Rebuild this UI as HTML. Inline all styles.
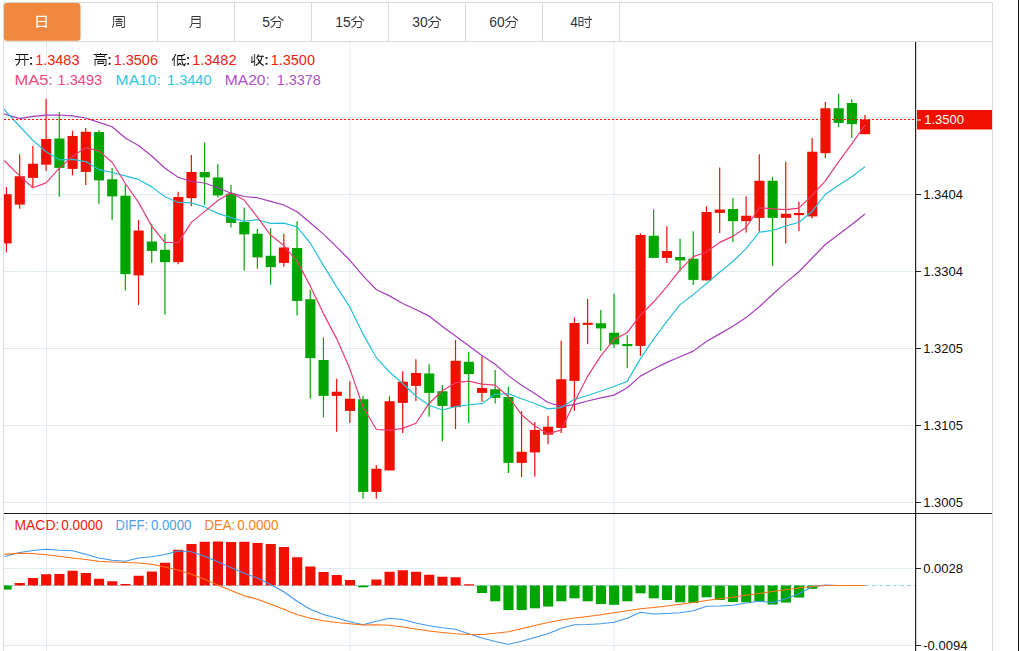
<!DOCTYPE html>
<html><head><meta charset="utf-8"><title>chart</title><style>html,body{margin:0;padding:0;background:#fff;overflow:hidden}body{width:1019px;height:651px;position:relative}</style></head><body>
<svg width="1019" height="651" viewBox="0 0 1019 651" style="position:absolute;left:0;top:0;font-family:'Liberation Sans',sans-serif">
<defs><clipPath id="cp"><rect x="4" y="42" width="912" height="609"/></clipPath></defs>
<rect width="1019" height="651" fill="#fff"/>
<line x1="4" x2="916" y1="117.5" y2="117.5" stroke="#e0ebf2" stroke-width="1"/>
<line x1="4" x2="916" y1="194.5" y2="194.5" stroke="#e0ebf2" stroke-width="1"/>
<line x1="4" x2="916" y1="271.5" y2="271.5" stroke="#e0ebf2" stroke-width="1"/>
<line x1="4" x2="916" y1="348.5" y2="348.5" stroke="#e0ebf2" stroke-width="1"/>
<line x1="4" x2="916" y1="425.5" y2="425.5" stroke="#e0ebf2" stroke-width="1"/>
<line x1="4" x2="916" y1="502.5" y2="502.5" stroke="#e0ebf2" stroke-width="1"/>
<line x1="4" x2="916" y1="568.5" y2="568.5" stroke="#e0ebf2" stroke-width="1"/>
<line x1="4" x2="916" y1="645.5" y2="645.5" stroke="#e0ebf2" stroke-width="1"/>
<line x1="46.5" x2="46.5" y1="42" y2="651" stroke="#e0ebf2" stroke-width="1"/>
<line x1="350.0" x2="350.0" y1="42" y2="651" stroke="#e0ebf2" stroke-width="1"/>
<line x1="614.0" x2="614.0" y1="42" y2="651" stroke="#e0ebf2" stroke-width="1"/>
<path d="M3.5 651V2.5H992.5V651" fill="none" stroke="#d9d9d9" stroke-width="1"/>
<line x1="4" x2="992" y1="41.5" y2="41.5" stroke="#d9d9d9"/>
<line x1="157.5" x2="157.5" y1="3" y2="41" stroke="#d9d9d9"/>
<line x1="234.5" x2="234.5" y1="3" y2="41" stroke="#d9d9d9"/>
<line x1="311.5" x2="311.5" y1="3" y2="41" stroke="#d9d9d9"/>
<line x1="388.5" x2="388.5" y1="3" y2="41" stroke="#d9d9d9"/>
<line x1="465.5" x2="465.5" y1="3" y2="41" stroke="#d9d9d9"/>
<line x1="542.5" x2="542.5" y1="3" y2="41" stroke="#d9d9d9"/>
<line x1="619.5" x2="619.5" y1="3" y2="41" stroke="#d9d9d9"/>
<rect x="4" y="3" width="76.5" height="37.7" rx="3" fill="#f0883e"/>
<rect x="1018" y="0" width="1" height="651" fill="#111"/>
<line x1="4" x2="916" y1="585.5" y2="585.5" stroke="#8fd3f2" stroke-width="1" stroke-dasharray="4,3"/>
<g clip-path="url(#cp)">
<line x1="6.45" x2="6.45" y1="187" y2="252.4" stroke="#f01000" stroke-width="1.2"/>
<rect x="1.50" y="194.25" width="10.15" height="49.15" fill="#f01000"/>
<line x1="19.66" x2="19.66" y1="154.25" y2="208.65" stroke="#f01000" stroke-width="1.2"/>
<rect x="14.71" y="176.25" width="10.15" height="28.40" fill="#f01000"/>
<line x1="32.87" x2="32.87" y1="145.75" y2="187.4" stroke="#f01000" stroke-width="1.2"/>
<rect x="27.92" y="163.75" width="10.15" height="14.15" fill="#f01000"/>
<line x1="46.07" x2="46.07" y1="98.75" y2="170.9" stroke="#f01000" stroke-width="1.2"/>
<rect x="41.12" y="139" width="10.15" height="25.65" fill="#f01000"/>
<line x1="59.28" x2="59.28" y1="112" y2="196.65" stroke="#00a500" stroke-width="1.2"/>
<rect x="54.33" y="138.5" width="10.15" height="29.40" fill="#00a500"/>
<line x1="72.49" x2="72.49" y1="130.75" y2="175.4" stroke="#f01000" stroke-width="1.2"/>
<rect x="67.54" y="136" width="10.15" height="32.90" fill="#f01000"/>
<line x1="85.70" x2="85.70" y1="128" y2="184.9" stroke="#f01000" stroke-width="1.2"/>
<rect x="80.75" y="131.75" width="10.15" height="40.15" fill="#f01000"/>
<line x1="98.91" x2="98.91" y1="130" y2="203.65" stroke="#00a500" stroke-width="1.2"/>
<rect x="93.96" y="132" width="10.15" height="48.40" fill="#00a500"/>
<line x1="112.11" x2="112.11" y1="168" y2="219.9" stroke="#00a500" stroke-width="1.2"/>
<rect x="107.16" y="179.25" width="10.15" height="17.15" fill="#00a500"/>
<line x1="125.32" x2="125.32" y1="184.5" y2="290.4" stroke="#00a500" stroke-width="1.2"/>
<rect x="120.37" y="195.75" width="10.15" height="78.40" fill="#00a500"/>
<line x1="138.53" x2="138.53" y1="220" y2="304.9" stroke="#f01000" stroke-width="1.2"/>
<rect x="133.58" y="230.5" width="10.15" height="44.90" fill="#f01000"/>
<line x1="151.74" x2="151.74" y1="223.75" y2="262.9" stroke="#00a500" stroke-width="1.2"/>
<rect x="146.79" y="241.5" width="10.15" height="9.40" fill="#00a500"/>
<line x1="164.95" x2="164.95" y1="234" y2="314.65" stroke="#00a500" stroke-width="1.2"/>
<rect x="160.00" y="249.75" width="10.15" height="12.40" fill="#00a500"/>
<line x1="178.15" x2="178.15" y1="191.75" y2="264.15" stroke="#f01000" stroke-width="1.2"/>
<rect x="173.20" y="197" width="10.15" height="65.15" fill="#f01000"/>
<line x1="191.36" x2="191.36" y1="155" y2="205.9" stroke="#f01000" stroke-width="1.2"/>
<rect x="186.41" y="172" width="10.15" height="26.15" fill="#f01000"/>
<line x1="204.57" x2="204.57" y1="142.5" y2="204.65" stroke="#00a500" stroke-width="1.2"/>
<rect x="199.62" y="172" width="10.15" height="5.40" fill="#00a500"/>
<line x1="217.78" x2="217.78" y1="164" y2="197.4" stroke="#00a500" stroke-width="1.2"/>
<rect x="212.83" y="177.5" width="10.15" height="17.90" fill="#00a500"/>
<line x1="230.99" x2="230.99" y1="185" y2="227.4" stroke="#00a500" stroke-width="1.2"/>
<rect x="226.04" y="193.75" width="10.15" height="29.15" fill="#00a500"/>
<line x1="244.19" x2="244.19" y1="207.5" y2="270.4" stroke="#00a500" stroke-width="1.2"/>
<rect x="239.24" y="222" width="10.15" height="12.40" fill="#00a500"/>
<line x1="257.40" x2="257.40" y1="228.75" y2="268.65" stroke="#00a500" stroke-width="1.2"/>
<rect x="252.45" y="233.75" width="10.15" height="23.65" fill="#00a500"/>
<line x1="270.61" x2="270.61" y1="228.25" y2="284.65" stroke="#00a500" stroke-width="1.2"/>
<rect x="265.66" y="255.75" width="10.15" height="11.40" fill="#00a500"/>
<line x1="283.82" x2="283.82" y1="233.75" y2="266.4" stroke="#f01000" stroke-width="1.2"/>
<rect x="278.87" y="247.5" width="10.15" height="15.40" fill="#f01000"/>
<line x1="297.03" x2="297.03" y1="221.25" y2="315.4" stroke="#00a500" stroke-width="1.2"/>
<rect x="292.08" y="248" width="10.15" height="52.90" fill="#00a500"/>
<line x1="310.23" x2="310.23" y1="290" y2="398.4" stroke="#00a500" stroke-width="1.2"/>
<rect x="305.28" y="299.25" width="10.15" height="58.90" fill="#00a500"/>
<line x1="323.44" x2="323.44" y1="337.5" y2="417.15" stroke="#00a500" stroke-width="1.2"/>
<rect x="318.49" y="360" width="10.15" height="35.90" fill="#00a500"/>
<line x1="336.65" x2="336.65" y1="378.75" y2="431.65" stroke="#f01000" stroke-width="1.2"/>
<rect x="331.70" y="391.75" width="10.15" height="4.15" fill="#f01000"/>
<line x1="349.86" x2="349.86" y1="381.25" y2="422.9" stroke="#f01000" stroke-width="1.2"/>
<rect x="344.91" y="398.75" width="10.15" height="12.15" fill="#f01000"/>
<line x1="363.07" x2="363.07" y1="395.75" y2="498.65" stroke="#00a500" stroke-width="1.2"/>
<rect x="358.12" y="399.25" width="10.15" height="92.65" fill="#00a500"/>
<line x1="376.27" x2="376.27" y1="465" y2="498.65" stroke="#f01000" stroke-width="1.2"/>
<rect x="371.32" y="468.75" width="10.15" height="23.15" fill="#f01000"/>
<line x1="389.48" x2="389.48" y1="396.25" y2="470.4" stroke="#f01000" stroke-width="1.2"/>
<rect x="384.53" y="401.25" width="10.15" height="69.15" fill="#f01000"/>
<line x1="402.69" x2="402.69" y1="371.25" y2="432.9" stroke="#f01000" stroke-width="1.2"/>
<rect x="397.74" y="381.75" width="10.15" height="21.15" fill="#f01000"/>
<line x1="415.90" x2="415.90" y1="359.25" y2="400.9" stroke="#f01000" stroke-width="1.2"/>
<rect x="410.95" y="373" width="10.15" height="12.90" fill="#f01000"/>
<line x1="429.11" x2="429.11" y1="364.25" y2="416.65" stroke="#00a500" stroke-width="1.2"/>
<rect x="424.16" y="373.5" width="10.15" height="19.40" fill="#00a500"/>
<line x1="442.31" x2="442.31" y1="385" y2="441.15" stroke="#00a500" stroke-width="1.2"/>
<rect x="437.36" y="391.25" width="10.15" height="14.65" fill="#00a500"/>
<line x1="455.52" x2="455.52" y1="340" y2="429.15" stroke="#f01000" stroke-width="1.2"/>
<rect x="450.57" y="360.75" width="10.15" height="46.40" fill="#f01000"/>
<line x1="468.73" x2="468.73" y1="352" y2="422.9" stroke="#00a500" stroke-width="1.2"/>
<rect x="463.78" y="361.75" width="10.15" height="12.40" fill="#00a500"/>
<line x1="481.94" x2="481.94" y1="356.25" y2="401.65" stroke="#f01000" stroke-width="1.2"/>
<rect x="476.99" y="388" width="10.15" height="4.90" fill="#f01000"/>
<line x1="495.15" x2="495.15" y1="370" y2="403.4" stroke="#00a500" stroke-width="1.2"/>
<rect x="490.20" y="389.25" width="10.15" height="8.65" fill="#00a500"/>
<line x1="508.35" x2="508.35" y1="386.75" y2="472.9" stroke="#00a500" stroke-width="1.2"/>
<rect x="503.40" y="397" width="10.15" height="65.90" fill="#00a500"/>
<line x1="521.56" x2="521.56" y1="411.25" y2="477.15" stroke="#f01000" stroke-width="1.2"/>
<rect x="516.61" y="451.75" width="10.15" height="11.15" fill="#f01000"/>
<line x1="534.77" x2="534.77" y1="422" y2="476.65" stroke="#f01000" stroke-width="1.2"/>
<rect x="529.82" y="430" width="10.15" height="22.40" fill="#f01000"/>
<line x1="547.98" x2="547.98" y1="415.75" y2="444.15" stroke="#f01000" stroke-width="1.2"/>
<rect x="543.03" y="426.75" width="10.15" height="7.90" fill="#f01000"/>
<line x1="561.19" x2="561.19" y1="340.75" y2="432.9" stroke="#f01000" stroke-width="1.2"/>
<rect x="556.24" y="379.25" width="10.15" height="48.65" fill="#f01000"/>
<line x1="574.39" x2="574.39" y1="317.5" y2="410.9" stroke="#f01000" stroke-width="1.2"/>
<rect x="569.44" y="323" width="10.15" height="57.90" fill="#f01000"/>
<line x1="587.60" x2="587.60" y1="298.75" y2="344.15" stroke="#f01000" stroke-width="1.2"/>
<rect x="582.65" y="322.75" width="10.15" height="2.15" fill="#f01000"/>
<line x1="600.81" x2="600.81" y1="310" y2="350.9" stroke="#00a500" stroke-width="1.2"/>
<rect x="595.86" y="323.25" width="10.15" height="5.15" fill="#00a500"/>
<line x1="614.02" x2="614.02" y1="293.75" y2="347.9" stroke="#00a500" stroke-width="1.2"/>
<rect x="609.07" y="332.75" width="10.15" height="11.65" fill="#00a500"/>
<line x1="627.23" x2="627.23" y1="335" y2="367.9" stroke="#00a500" stroke-width="1.2"/>
<rect x="622.28" y="344" width="10.15" height="2.15" fill="#00a500"/>
<line x1="640.43" x2="640.43" y1="233.25" y2="355.9" stroke="#f01000" stroke-width="1.2"/>
<rect x="635.48" y="235" width="10.15" height="110.90" fill="#f01000"/>
<line x1="653.64" x2="653.64" y1="209.25" y2="257.9" stroke="#00a500" stroke-width="1.2"/>
<rect x="648.69" y="235.75" width="10.15" height="22.15" fill="#00a500"/>
<line x1="666.85" x2="666.85" y1="226.25" y2="262.9" stroke="#f01000" stroke-width="1.2"/>
<rect x="661.90" y="251" width="10.15" height="6.90" fill="#f01000"/>
<line x1="680.06" x2="680.06" y1="238.75" y2="271.2" stroke="#00a500" stroke-width="1.2"/>
<rect x="675.11" y="257" width="10.15" height="3.40" fill="#00a500"/>
<line x1="693.27" x2="693.27" y1="231.25" y2="284.9" stroke="#00a500" stroke-width="1.2"/>
<rect x="688.32" y="258.75" width="10.15" height="21.15" fill="#00a500"/>
<line x1="706.47" x2="706.47" y1="206.25" y2="280.4" stroke="#f01000" stroke-width="1.2"/>
<rect x="701.52" y="212" width="10.15" height="68.40" fill="#f01000"/>
<line x1="719.68" x2="719.68" y1="167.5" y2="232.9" stroke="#f01000" stroke-width="1.2"/>
<rect x="714.73" y="209.5" width="10.15" height="3.40" fill="#f01000"/>
<line x1="732.89" x2="732.89" y1="198" y2="242.15" stroke="#00a500" stroke-width="1.2"/>
<rect x="727.94" y="209" width="10.15" height="12.15" fill="#00a500"/>
<line x1="746.10" x2="746.10" y1="196.25" y2="232.4" stroke="#f01000" stroke-width="1.2"/>
<rect x="741.15" y="215.75" width="10.15" height="5.40" fill="#f01000"/>
<line x1="759.31" x2="759.31" y1="154.25" y2="231.65" stroke="#f01000" stroke-width="1.2"/>
<rect x="754.36" y="180.75" width="10.15" height="37.15" fill="#f01000"/>
<line x1="772.51" x2="772.51" y1="176.75" y2="265.9" stroke="#00a500" stroke-width="1.2"/>
<rect x="767.56" y="180.75" width="10.15" height="37.15" fill="#00a500"/>
<line x1="785.72" x2="785.72" y1="161.75" y2="243.4" stroke="#f01000" stroke-width="1.2"/>
<rect x="780.77" y="213.75" width="10.15" height="4.15" fill="#f01000"/>
<line x1="798.93" x2="798.93" y1="201.75" y2="230.9" stroke="#f01000" stroke-width="1.2"/>
<rect x="793.98" y="213" width="10.15" height="2.15" fill="#f01000"/>
<line x1="812.14" x2="812.14" y1="138" y2="218.4" stroke="#f01000" stroke-width="1.2"/>
<rect x="807.19" y="151.75" width="10.15" height="64.65" fill="#f01000"/>
<line x1="825.35" x2="825.35" y1="102" y2="157.9" stroke="#f01000" stroke-width="1.2"/>
<rect x="820.40" y="108.25" width="10.15" height="44.90" fill="#f01000"/>
<line x1="838.55" x2="838.55" y1="93.75" y2="127.15" stroke="#00a500" stroke-width="1.2"/>
<rect x="833.60" y="108.25" width="10.15" height="14.65" fill="#00a500"/>
<line x1="851.76" x2="851.76" y1="99.25" y2="137.9" stroke="#00a500" stroke-width="1.2"/>
<rect x="846.81" y="103" width="10.15" height="21.15" fill="#00a500"/>
<line x1="864.97" x2="864.97" y1="115" y2="134.15" stroke="#f01000" stroke-width="1.2"/>
<rect x="860.02" y="119.5" width="10.15" height="14.65" fill="#f01000"/>
<rect x="1.50" y="585.5" width="10.15" height="4.05" fill="#00a500"/>
<rect x="14.71" y="583" width="10.15" height="2.50" fill="#f01000"/>
<rect x="27.92" y="578" width="10.15" height="7.50" fill="#f01000"/>
<rect x="41.12" y="574.25" width="10.15" height="11.25" fill="#f01000"/>
<rect x="54.33" y="574" width="10.15" height="11.50" fill="#f01000"/>
<rect x="67.54" y="570.75" width="10.15" height="14.75" fill="#f01000"/>
<rect x="80.75" y="573" width="10.15" height="12.50" fill="#f01000"/>
<rect x="93.96" y="578.75" width="10.15" height="6.75" fill="#f01000"/>
<rect x="107.16" y="581.25" width="10.15" height="4.25" fill="#f01000"/>
<rect x="120.37" y="584" width="10.15" height="1.50" fill="#f01000"/>
<rect x="133.58" y="575.75" width="10.15" height="9.75" fill="#f01000"/>
<rect x="146.79" y="571.5" width="10.15" height="14.00" fill="#f01000"/>
<rect x="160.00" y="562.75" width="10.15" height="22.75" fill="#f01000"/>
<rect x="173.20" y="549.75" width="10.15" height="35.75" fill="#f01000"/>
<rect x="186.41" y="544" width="10.15" height="41.50" fill="#f01000"/>
<rect x="199.62" y="541.75" width="10.15" height="43.75" fill="#f01000"/>
<rect x="212.83" y="541.5" width="10.15" height="44.00" fill="#f01000"/>
<rect x="226.04" y="542" width="10.15" height="43.50" fill="#f01000"/>
<rect x="239.24" y="541.75" width="10.15" height="43.75" fill="#f01000"/>
<rect x="252.45" y="543" width="10.15" height="42.50" fill="#f01000"/>
<rect x="265.66" y="544" width="10.15" height="41.50" fill="#f01000"/>
<rect x="278.87" y="547" width="10.15" height="38.50" fill="#f01000"/>
<rect x="292.08" y="557.25" width="10.15" height="28.25" fill="#f01000"/>
<rect x="305.28" y="566.5" width="10.15" height="19.00" fill="#f01000"/>
<rect x="318.49" y="572" width="10.15" height="13.50" fill="#f01000"/>
<rect x="331.70" y="575" width="10.15" height="10.50" fill="#f01000"/>
<rect x="344.91" y="580" width="10.15" height="5.50" fill="#f01000"/>
<rect x="358.12" y="585.5" width="10.15" height="1.80" fill="#00a500"/>
<rect x="371.32" y="579.5" width="10.15" height="6.00" fill="#f01000"/>
<rect x="384.53" y="571.75" width="10.15" height="13.75" fill="#f01000"/>
<rect x="397.74" y="570.25" width="10.15" height="15.25" fill="#f01000"/>
<rect x="410.95" y="571.75" width="10.15" height="13.75" fill="#f01000"/>
<rect x="424.16" y="574.75" width="10.15" height="10.75" fill="#f01000"/>
<rect x="437.36" y="576.75" width="10.15" height="8.75" fill="#f01000"/>
<rect x="450.57" y="577.25" width="10.15" height="8.25" fill="#f01000"/>
<rect x="463.78" y="584.25" width="10.15" height="1.25" fill="#f01000"/>
<rect x="476.99" y="585.5" width="10.15" height="7.55" fill="#00a500"/>
<rect x="490.20" y="585.5" width="10.15" height="15.80" fill="#00a500"/>
<rect x="503.40" y="585.5" width="10.15" height="24.55" fill="#00a500"/>
<rect x="516.61" y="585.5" width="10.15" height="24.55" fill="#00a500"/>
<rect x="529.82" y="585.5" width="10.15" height="22.80" fill="#00a500"/>
<rect x="543.03" y="585.5" width="10.15" height="21.05" fill="#00a500"/>
<rect x="556.24" y="585.5" width="10.15" height="15.80" fill="#00a500"/>
<rect x="569.44" y="585.5" width="10.15" height="12.80" fill="#00a500"/>
<rect x="582.65" y="585.5" width="10.15" height="15.80" fill="#00a500"/>
<rect x="595.86" y="585.5" width="10.15" height="18.55" fill="#00a500"/>
<rect x="609.07" y="585.5" width="10.15" height="19.30" fill="#00a500"/>
<rect x="622.28" y="585.5" width="10.15" height="15.80" fill="#00a500"/>
<rect x="635.48" y="585.5" width="10.15" height="7.80" fill="#00a500"/>
<rect x="648.69" y="585.5" width="10.15" height="12.80" fill="#00a500"/>
<rect x="661.90" y="585.5" width="10.15" height="14.55" fill="#00a500"/>
<rect x="675.11" y="585.5" width="10.15" height="16.80" fill="#00a500"/>
<rect x="688.32" y="585.5" width="10.15" height="17.30" fill="#00a500"/>
<rect x="701.52" y="585.5" width="10.15" height="11.80" fill="#00a500"/>
<rect x="714.73" y="585.5" width="10.15" height="14.55" fill="#00a500"/>
<rect x="727.94" y="585.5" width="10.15" height="16.55" fill="#00a500"/>
<rect x="741.15" y="585.5" width="10.15" height="16.80" fill="#00a500"/>
<rect x="754.36" y="585.5" width="10.15" height="16.05" fill="#00a500"/>
<rect x="767.56" y="585.5" width="10.15" height="19.05" fill="#00a500"/>
<rect x="780.77" y="585.5" width="10.15" height="17.05" fill="#00a500"/>
<rect x="793.98" y="585.5" width="10.15" height="12.05" fill="#00a500"/>
<rect x="807.19" y="585.5" width="10.15" height="3.30" fill="#00a500"/>
<rect x="820.40" y="585" width="10.15" height="0.50" fill="#f01000"/>
<polyline points="4.00,113.90 6.45,114.70 19.66,118.60 32.87,116.40 46.07,115.15 59.28,115.00 72.49,115.80 85.70,118.00 98.91,122.40 112.11,126.80 125.32,138.00 138.53,145.50 151.74,156.00 164.95,168.30 178.15,177.20 191.36,181.50 204.57,183.00 217.78,187.70 230.99,193.20 244.19,196.50 257.40,197.78 270.61,201.40 283.82,204.96 297.03,211.80 310.23,222.74 323.44,234.14 336.65,246.93 349.86,260.27 363.07,275.85 376.27,289.49 389.48,295.86 402.69,303.43 415.90,309.55 429.11,316.09 442.31,326.51 455.52,335.95 468.73,345.79 481.94,355.44 495.15,364.19 508.35,375.61 521.56,385.35 534.77,393.51 547.98,402.48 561.19,406.41 574.39,404.68 587.60,401.04 600.81,397.85 614.02,395.11 627.23,387.82 640.43,376.14 653.64,368.95 666.85,362.41 680.06,356.76 693.27,351.11 706.47,341.44 719.68,333.88 732.89,326.23 746.10,317.61 759.31,306.77 772.51,294.52 785.72,282.62 798.93,271.77 812.14,258.02 825.35,244.47 838.55,234.45 851.76,224.50 864.97,214.07" fill="none" stroke="#a63cbc" stroke-width="1.2" stroke-linejoin="round"/>
<polyline points="4.00,109.00 6.45,112.00 19.66,126.25 32.87,140.30 46.07,151.75 59.28,159.80 72.49,159.40 85.70,161.60 98.91,169.60 112.11,172.50 125.32,175.82 138.53,179.45 151.74,186.88 164.95,196.68 178.15,202.47 191.36,202.93 204.57,207.03 217.78,213.35 230.99,217.60 244.19,221.40 257.40,219.72 270.61,223.35 283.82,223.05 297.03,226.93 310.23,243.00 323.44,265.35 336.65,286.82 349.86,307.20 363.07,334.10 376.27,357.57 389.48,372.00 402.69,383.50 415.90,396.05 429.11,405.25 442.31,410.02 455.52,406.55 468.73,404.75 481.94,403.68 495.15,394.27 508.35,393.65 521.56,398.70 534.77,403.52 547.98,408.90 561.19,407.57 574.39,399.32 587.60,395.52 600.81,390.95 614.02,386.55 627.23,381.38 640.43,358.62 653.64,339.20 666.85,321.30 680.06,304.62 693.27,294.65 706.47,283.55 719.68,272.23 732.89,261.50 746.10,248.68 759.31,232.18 772.51,230.43 785.72,226.05 798.93,222.25 812.14,211.43 825.35,194.30 838.55,185.35 851.76,176.78 864.97,166.65" fill="none" stroke="#28c0d8" stroke-width="1.2" stroke-linejoin="round"/>
<polyline points="4.00,160.40 6.45,162.80 19.66,175.90 32.87,187.80 46.07,182.90 59.28,168.15 72.49,156.50 85.70,147.60 98.91,150.85 112.11,162.25 125.32,183.50 138.53,202.40 151.74,226.15 164.95,242.50 178.15,242.70 191.36,222.35 204.57,211.65 217.78,200.55 230.99,192.70 244.19,200.10 257.40,217.10 270.61,235.05 283.82,245.55 297.03,261.15 310.23,285.90 323.44,313.60 336.65,338.60 349.86,368.85 363.07,407.05 376.27,429.25 389.48,430.40 402.69,428.40 415.90,423.25 429.11,403.45 442.31,390.80 455.52,382.70 468.73,381.10 481.94,384.10 495.15,385.10 508.35,396.50 521.56,414.70 534.77,425.95 547.98,433.70 561.19,430.05 574.39,402.15 587.60,376.35 600.81,355.95 614.02,339.40 627.23,332.70 640.43,315.10 653.64,302.05 666.85,286.65 680.06,269.85 693.27,256.60 706.47,252.00 719.68,242.40 732.89,236.35 746.10,227.50 759.31,207.75 772.51,208.85 785.72,209.70 798.93,208.15 812.14,195.35 825.35,180.85 838.55,161.85 851.76,143.85 864.97,125.15" fill="none" stroke="#e93c74" stroke-width="1.2" stroke-linejoin="round"/>
<polyline points="4.00,556.25 6.45,556.00 19.66,552.50 32.87,550.50 46.07,549.25 59.28,550.25 72.49,550.75 85.70,554.25 98.91,558.00 112.11,560.25 125.32,561.25 138.53,558.00 151.74,556.75 164.95,554.50 178.15,551.00 191.36,551.75 204.57,556.25 217.78,561.75 230.99,567.50 244.19,573.25 257.40,578.00 270.61,584.50 283.82,591.75 297.03,601.25 310.23,609.25 323.44,614.50 336.65,618.00 349.86,621.75 363.07,624.75 376.27,621.25 389.48,618.25 402.69,619.50 415.90,623.00 429.11,625.75 442.31,627.75 455.52,629.25 468.73,633.75 481.94,638.00 495.15,641.50 508.35,644.25 521.56,641.25 534.77,637.50 547.98,633.75 561.19,628.25 574.39,624.75 587.60,624.50 600.81,623.75 614.02,622.25 627.23,618.25 640.43,612.25 653.64,614.00 666.85,613.50 680.06,612.75 693.27,610.75 706.47,606.25 719.68,606.00 732.89,605.25 746.10,603.00 759.31,601.25 772.51,602.50 785.72,598.75 798.93,593.75 812.14,586.75 825.35,585.00 838.55,585.50 851.76,585.50 864.97,585.50" fill="none" stroke="#3d98f0" stroke-width="1.15" stroke-linejoin="round"/>
<polyline points="4.00,554.25 6.45,554.10 19.66,553.25 32.87,553.50 46.07,554.75 59.28,556.25 72.49,558.00 85.70,559.50 98.91,561.25 112.11,562.00 125.32,562.50 138.53,563.00 151.74,564.25 164.95,567.00 178.15,570.00 191.36,574.25 204.57,579.25 217.78,585.00 230.99,590.50 244.19,595.75 257.40,599.25 270.61,604.25 283.82,609.25 297.03,614.50 310.23,618.25 323.44,620.75 336.65,622.50 349.86,623.75 363.07,625.00 376.27,624.75 389.48,625.25 402.69,627.00 415.90,629.00 429.11,631.00 442.31,632.50 455.52,633.75 468.73,634.50 481.94,634.50 495.15,633.25 508.35,631.75 521.56,628.75 534.77,625.50 547.98,622.50 561.19,620.00 574.39,618.00 587.60,616.50 600.81,614.75 614.02,612.75 627.23,610.75 640.43,608.75 653.64,607.50 666.85,606.00 680.06,604.25 693.27,602.50 706.47,600.50 719.68,598.75 732.89,597.25 746.10,595.25 759.31,593.50 772.51,591.50 785.72,589.75 798.93,588.00 812.14,586.50 825.35,585.50 838.55,585.50 851.76,585.50 864.97,585.50" fill="none" stroke="#ff7012" stroke-width="1.15" stroke-linejoin="round"/>
</g>
<line x1="4" x2="916" y1="119.5" y2="119.5" stroke="#f01000" stroke-width="1" stroke-dasharray="2,2"/>
<rect x="4" y="513" width="988" height="1" fill="#1a1a1a"/>
<rect x="915" y="42" width="1.2" height="609" fill="#222"/>
<line x1="916" x2="921" y1="194.5" y2="194.5" stroke="#222" stroke-width="1"/>
<text x="923.2" y="198.7" font-size="13.5" fill="#111" textLength="39.8" lengthAdjust="spacingAndGlyphs">1.3404</text>
<line x1="916" x2="921" y1="271.5" y2="271.5" stroke="#222" stroke-width="1"/>
<text x="923.2" y="275.7" font-size="13.5" fill="#111" textLength="39.8" lengthAdjust="spacingAndGlyphs">1.3304</text>
<line x1="916" x2="921" y1="348.5" y2="348.5" stroke="#222" stroke-width="1"/>
<text x="923.2" y="352.7" font-size="13.5" fill="#111" textLength="39.8" lengthAdjust="spacingAndGlyphs">1.3205</text>
<line x1="916" x2="921" y1="425.5" y2="425.5" stroke="#222" stroke-width="1"/>
<text x="923.2" y="429.7" font-size="13.5" fill="#111" textLength="39.8" lengthAdjust="spacingAndGlyphs">1.3105</text>
<line x1="916" x2="921" y1="502.5" y2="502.5" stroke="#222" stroke-width="1"/>
<text x="923.2" y="506.7" font-size="13.5" fill="#111" textLength="39.8" lengthAdjust="spacingAndGlyphs">1.3005</text>
<line x1="916" x2="921" y1="568.5" y2="568.5" stroke="#222" stroke-width="1"/>
<text x="923.2" y="572.7" font-size="13.5" fill="#111" textLength="39.8" lengthAdjust="spacingAndGlyphs">0.0028</text>
<line x1="916" x2="921" y1="645.5" y2="645.5" stroke="#222" stroke-width="1"/>
<text x="923.2" y="649.7" font-size="13.5" fill="#111" textLength="44.2" lengthAdjust="spacingAndGlyphs">-0.0094</text>
<rect x="917" y="110" width="75" height="19.5" fill="#f01000"/>
<line x1="917" x2="921" y1="120" y2="120" stroke="#fff" stroke-width="1"/>
<text x="924.2" y="124.4" font-size="13.5" fill="#fff" textLength="39.8" lengthAdjust="spacingAndGlyphs">1.3500</text>
<g transform="translate(34,14)" fill="none"><path d="M3 2.4H12.1M3 7.5H12.1M3 12.4H12.1" stroke="#fff" stroke-width="1.15"/><path d="M3 1.8V14M12.1 1.8V14" stroke="#fff" stroke-width="1.35"/></g>
<g transform="translate(112,14)" fill="none"><path d="M1.4 2.4H12.6M3.8 5.35H10.25M3.2 7.5H10.8M4.4 9.3H9.7M4.4 11.5H9.7M12.4 13.4H9.4M1.6 9.8Q1.5 12.2 0.2 13.75" stroke="#333" stroke-width="1.05"/><path d="M1.6 2.4V9.8M12.45 2.4V13.4M7 3.9V7.5M4.5 9.3V12.6M9.5 9.3V11.5" stroke="#666" stroke-width="1.25"/></g>
<g transform="translate(189,14)" fill="none"><path d="M2.9 2.4H11.3M2.9 5.35H11.1M2.9 9.4H11.1M11.1 13.45H7.3M2.9 9.5Q2.6 12 0.7 13.75" stroke="#333" stroke-width="1.05"/><path d="M2.9 2.4V9.5M11.1 2.4V13.4" stroke="#666" stroke-width="1.25"/></g>
<text x="262.15" y="26.7" font-size="14.5" fill="#333" textLength="7.7" lengthAdjust="spacingAndGlyphs">5</text>
<g transform="translate(269.84999999999997,14)" fill="none"><path d="M5.65 2.4Q4 5 0.5 6.5M8.35 2.4Q10 5 13.45 6.5M2.55 7.5H10.85M10.25 13.45H6.4M5.25 7.7Q5.2 11.2 0.8 13.6" stroke="#333" stroke-width="1.05"/><path d="M10.85 7.5L10.25 13.4" stroke="#666" stroke-width="1.25"/></g>
<text x="335.3" y="26.7" font-size="14.5" fill="#333" textLength="15.4" lengthAdjust="spacingAndGlyphs">15</text>
<g transform="translate(350.7,14)" fill="none"><path d="M5.65 2.4Q4 5 0.5 6.5M8.35 2.4Q10 5 13.45 6.5M2.55 7.5H10.85M10.25 13.45H6.4M5.25 7.7Q5.2 11.2 0.8 13.6" stroke="#333" stroke-width="1.05"/><path d="M10.85 7.5L10.25 13.4" stroke="#666" stroke-width="1.25"/></g>
<text x="412.3" y="26.7" font-size="14.5" fill="#333" textLength="15.4" lengthAdjust="spacingAndGlyphs">30</text>
<g transform="translate(427.7,14)" fill="none"><path d="M5.65 2.4Q4 5 0.5 6.5M8.35 2.4Q10 5 13.45 6.5M2.55 7.5H10.85M10.25 13.45H6.4M5.25 7.7Q5.2 11.2 0.8 13.6" stroke="#333" stroke-width="1.05"/><path d="M10.85 7.5L10.25 13.4" stroke="#666" stroke-width="1.25"/></g>
<text x="489.3" y="26.7" font-size="14.5" fill="#333" textLength="15.4" lengthAdjust="spacingAndGlyphs">60</text>
<g transform="translate(504.7,14)" fill="none"><path d="M5.65 2.4Q4 5 0.5 6.5M8.35 2.4Q10 5 13.45 6.5M2.55 7.5H10.85M10.25 13.45H6.4M5.25 7.7Q5.2 11.2 0.8 13.6" stroke="#333" stroke-width="1.05"/><path d="M10.85 7.5L10.25 13.4" stroke="#666" stroke-width="1.25"/></g>
<text x="570.15" y="26.7" font-size="14.5" fill="#333" textLength="7.7" lengthAdjust="spacingAndGlyphs">4</text>
<g transform="translate(577.85,14)" fill="none"><path d="M1.1 3.4H5.05M1.1 7.5H5.05M1.1 11.5H5.05M6.4 5.35H14.05M11.55 13.45H7.85M7.25 7.4L8.75 9.5" stroke="#333" stroke-width="1.05"/><path d="M1.1 3.3V12.6M5.05 3.3V12.6M11.55 2.1V13.4" stroke="#666" stroke-width="1.25"/></g>
<g transform="translate(15.0,53)" fill="none"><path d="M0.9 1.4H13.1M0 6.5H14M4.5 6.5Q4.6 10.6 0.9 12.6" stroke="#000" stroke-width="1.05"/><path d="M4.5 1.4V6.5M9.6 1.4V12.8" stroke="#555" stroke-width="1.25"/></g>
<rect x="30.15" y="57.05" width="1.8" height="1.8" fill="#111"/><rect x="30.15" y="62.9" width="1.8" height="1.8" fill="#111"/>
<text x="35.2" y="64.6" font-size="14.5" fill="#f02010" textLength="44.3" lengthAdjust="spacingAndGlyphs">1.3483</text>
<g transform="translate(93.5,53)" fill="none"><path d="M0.2 1.4H13.8M2.9 3.4H11.1M1 6.5H12.9M4.2 8.3H10.4M4.2 10.5H10.4M12.5 12.4H10.3M6.9 -0.1V1.4" stroke="#000" stroke-width="1.05"/><path d="M2.9 1.4V4.8M11.1 1.4V4.8M1.6 6.5V12.8M12.5 6.5V12.5M4.4 8.3V11.5M10.2 8.3V10.5" stroke="#555" stroke-width="1.25"/></g>
<rect x="108.65" y="57.05" width="1.8" height="1.8" fill="#111"/><rect x="108.65" y="62.9" width="1.8" height="1.8" fill="#111"/>
<text x="113.7" y="64.6" font-size="14.5" fill="#f02010" textLength="44.3" lengthAdjust="spacingAndGlyphs">1.3506</text>
<g transform="translate(172.0,53)" fill="none"><path d="M3.7 1.1Q2.4 4.6 0.15 7.3M5.3 2.6H10.3L12.95 1.3M5.5 6.5H13.8M5.3 12.5L7.95 10.2M10 8.8Q10.6 11.8 12.4 12.5L13.5 10.2M8 10.2L9.4 12.3" stroke="#000" stroke-width="1.05"/><path d="M2.3 5.5V12.9M5.5 2.6V12.5M9.6 2.6L10 8.8" stroke="#555" stroke-width="1.25"/></g>
<rect x="187.15" y="57.05" width="1.8" height="1.8" fill="#111"/><rect x="187.15" y="62.9" width="1.8" height="1.8" fill="#111"/>
<text x="192.2" y="64.6" font-size="14.5" fill="#f02010" textLength="44.3" lengthAdjust="spacingAndGlyphs">1.3482</text>
<g transform="translate(250.5,53)" fill="none"><path d="M0.65 9.4L4 8.3M8 1.4L6.1 5.5M7.3 3.3H13.45M11.5 3.8Q10.5 9 5.2 12.5M7.3 5.5Q9 10.5 13.2 12.5" stroke="#000" stroke-width="1.05"/><path d="M1.4 3.3V8.9M4 1.1V12.7" stroke="#555" stroke-width="1.25"/></g>
<rect x="265.65" y="57.05" width="1.8" height="1.8" fill="#111"/><rect x="265.65" y="62.9" width="1.8" height="1.8" fill="#111"/>
<text x="270.7" y="64.6" font-size="14.5" fill="#f02010" textLength="44.3" lengthAdjust="spacingAndGlyphs">1.3500</text>
<text x="14.6" y="84.8" font-size="14.5" fill="#ee4880" textLength="38.3" lengthAdjust="spacingAndGlyphs">MA5:</text>
<text x="57.6" y="84.8" font-size="14.5" fill="#ee4880" textLength="44.6" lengthAdjust="spacingAndGlyphs">1.3493</text>
<text x="115.6" y="84.8" font-size="14.5" fill="#33c5dc" textLength="45.3" lengthAdjust="spacingAndGlyphs">MA10:</text>
<text x="167" y="84.8" font-size="14.5" fill="#33c5dc" textLength="44.6" lengthAdjust="spacingAndGlyphs">1.3440</text>
<text x="224.8" y="84.8" font-size="14.5" fill="#b04fc8" textLength="45" lengthAdjust="spacingAndGlyphs">MA20:</text>
<text x="276.7" y="84.8" font-size="14.5" fill="#b04fc8" textLength="44.2" lengthAdjust="spacingAndGlyphs">1.3378</text>
<text x="14.5" y="529.6" font-size="14" fill="#f02010" textLength="44.8" lengthAdjust="spacingAndGlyphs">MACD:</text>
<text x="61.3" y="529.6" font-size="14" fill="#f02010" textLength="41.5" lengthAdjust="spacingAndGlyphs">0.0000</text>
<text x="115.6" y="529.6" font-size="14" fill="#4aa0ee" textLength="32.4" lengthAdjust="spacingAndGlyphs">DIFF:</text>
<text x="150.9" y="529.6" font-size="14" fill="#4aa0ee" textLength="40.5" lengthAdjust="spacingAndGlyphs">0.0000</text>
<text x="204.5" y="529.6" font-size="14" fill="#f57f20" textLength="30.8" lengthAdjust="spacingAndGlyphs">DEA:</text>
<text x="237.3" y="529.6" font-size="14" fill="#f57f20" textLength="41.2" lengthAdjust="spacingAndGlyphs">0.0000</text>
</svg>
</body></html>
